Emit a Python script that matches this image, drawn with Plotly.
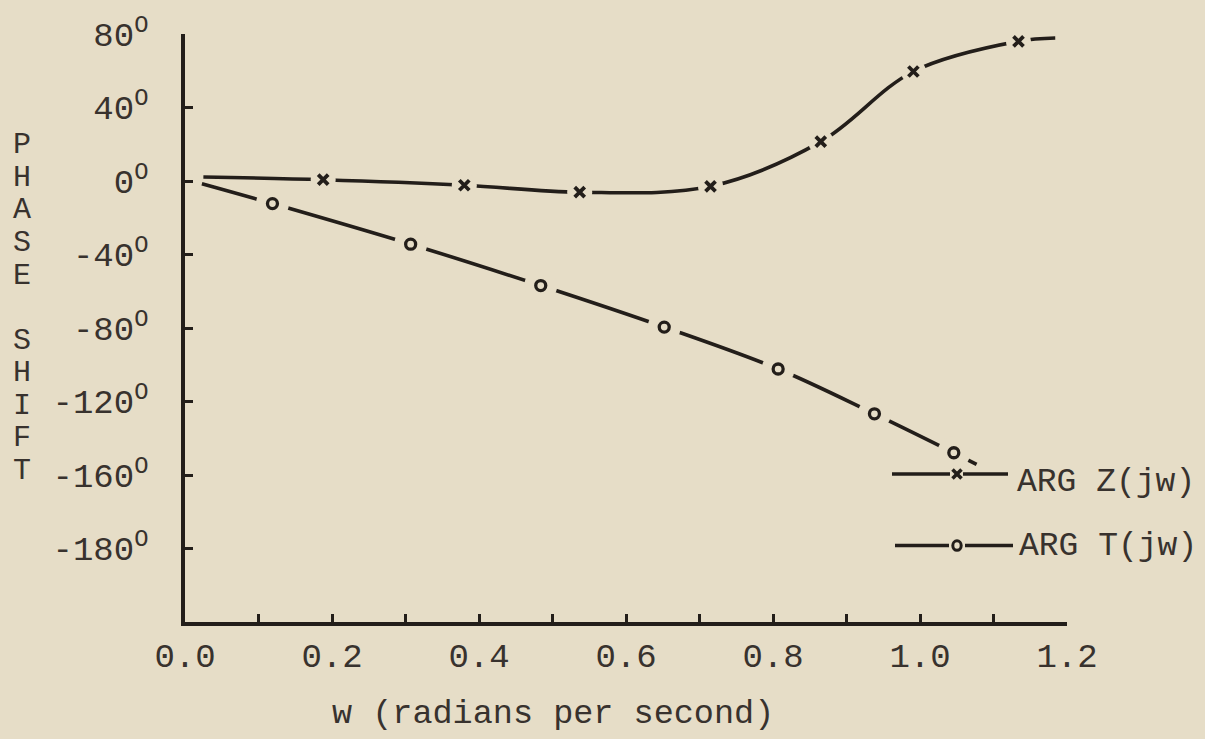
import plotly.graph_objects as go

# ---- data: phase shift (degrees) versus w (radians per second) ----
# ARG Z(jw): plotted points and the two free ends of the drawn curve
z_w_marks = [0.188, 0.380, 0.537, 0.715, 0.865, 0.991, 1.134]
z_deg_marks = [0.7, -2.3, -6.1, -2.9, 21.4, 59.6, 76.0]
z_w_ends = [0.025, 1.184]
z_deg_ends = [2.2, 77.8]

# ARG T(jw)
t_w_marks = [0.119, 0.307, 0.484, 0.652, 0.807, 0.938, 1.046]
t_deg_marks = [-12.3, -34.4, -56.9, -79.5, -102.3, -126.7, -147.9]
t_w_ends = [0.023, 1.077]
t_deg_ends = [-1.5, -154.2]

# axis ticks
x_tick_vals = [0.0, 0.1, 0.2, 0.3, 0.4, 0.5, 0.6, 0.7, 0.8, 0.9, 1.0, 1.1, 1.2]
x_tick_text = ["0.0", "", "0.2", "", "0.4", "", "0.6", "", "0.8", "", "1.0", "", "1.2"]
y_tick_vals = [80, 40, 0, -40, -80, -120, -160, -200]
y_tick_text = ["80", "40", "0", "-40", "-80", "-120", "-160", "-180"]

series_names = ["ARG Z(jw)", "ARG T(jw)"]
y_title = "PHASE SHIFT"
x_title = "w (radians per second)"

# ---- styling ----
PAPER = "#e6ddc7"
INK = "#231e1a"
TYPE = "#38322e"
FONT = "Liberation Mono"
W, H = 1205, 739
M_L, M_R, M_T, M_B = 185, 138, 30, 117
PLOT_W = W - M_L - M_R
PLOT_H = H - M_T - M_B
X_RANGE = [0, 1.2]
Y_RANGE = [-240, 80]
LINE_W = 3.6


def px_x(px):
    """page pixel column -> paper x"""
    return (px - M_L) / PLOT_W


def px_y(py):
    """page pixel row -> paper y"""
    return (H - M_B - py) / PLOT_H


def path(ends_w, marks_w, ends_v, marks_v):
    return ([ends_w[0]] + marks_w + [ends_w[1]],
            [ends_v[0]] + marks_v + [ends_v[1]])


fig = go.Figure()

# pen curves
for (ew, mw, ev, mv) in [(z_w_ends, z_w_marks, z_deg_ends, z_deg_marks),
                         (t_w_ends, t_w_marks, t_deg_ends, t_deg_marks)]:
    xs, ys = path(ew, mw, ev, mv)
    fig.add_trace(go.Scatter(x=xs, y=ys, mode="lines",
                             line=dict(color=INK, width=LINE_W, shape="spline", smoothing=1.0),
                             hoverinfo="skip", showlegend=False))

# paper-coloured discs break the pen line around each plotted point
for mw, mv, gap in [(z_w_marks, z_deg_marks, 25), (t_w_marks, t_deg_marks, 33)]:
    fig.add_trace(go.Scatter(x=mw, y=mv, mode="markers",
                             marker=dict(symbol="circle", size=gap, color=PAPER),
                             hoverinfo="skip", showlegend=False))

fig.add_trace(go.Scatter(x=z_w_marks, y=z_deg_marks, mode="markers", name=series_names[0],
                         marker=dict(symbol="x-thin", size=10,
                                     line=dict(color=INK, width=3.8)),
                         showlegend=False))
fig.add_trace(go.Scatter(x=t_w_marks, y=t_deg_marks, mode="markers", name=series_names[1],
                         marker=dict(symbol="circle-open", size=10, color=INK,
                                     line=dict(color=INK, width=3.3)),
                         showlegend=False))

# ---- hand-ruled key (page pixels) ----
key_rows = [
    dict(y=473, segs=[(892, 950), (963, 1008)], xm=957, kind="x", text_x=1015, tshift=-8),
    dict(y=545, segs=[(895, 949), (965, 1013)], xm=957, kind="o", text_x=1017, tshift=-1),
]
shapes = []
for row, name in zip(key_rows, series_names):
    for a, b in row["segs"]:
        shapes.append(dict(type="line", xref="paper", yref="paper",
                           x0=px_x(a), x1=px_x(b), y0=px_y(row["y"]), y1=px_y(row["y"]),
                           line=dict(color=INK, width=LINE_W)))
    cx, cy = row["xm"], row["y"]
    if row["kind"] == "x":
        for dy in (-4.5, 4.5):
            shapes.append(dict(type="line", xref="paper", yref="paper",
                               x0=px_x(cx - 4.5), x1=px_x(cx + 4.5),
                               y0=px_y(cy - dy), y1=px_y(cy + dy),
                               line=dict(color=INK, width=3.5)))
    else:
        shapes.append(dict(type="circle", xref="paper", yref="paper",
                           x0=px_x(cx - 4.2), x1=px_x(cx + 4.2),
                           y0=px_y(cy + 4.8), y1=px_y(cy - 4.8),
                           line=dict(color=INK, width=3)))
    fig.add_annotation(x=px_x(row["text_x"]), y=px_y(row["y"]), xref="paper", yref="paper",
                       text=name, showarrow=False, xanchor="left", yanchor="middle",
                       yshift=row["tshift"], font=dict(family=FONT, size=33, color=TYPE))

# ---- stacked vertical axis title ----
pitch = 32.8
for i, ch in enumerate(y_title):
    if ch == " ":
        continue
    fig.add_annotation(x=px_x(22), y=px_y(142 + pitch * i),
                       xref="paper", yref="paper", text=ch, showarrow=False,
                       xanchor="center", yanchor="middle",
                       font=dict(family=FONT, size=30, color=TYPE))

fig.add_annotation(x=px_x(553), y=px_y(715),
                   xref="paper", yref="paper", text=x_title, showarrow=False,
                   xanchor="center", yanchor="middle",
                   font=dict(family=FONT, size=33.5, color=TYPE))

fig.update_layout(
    width=W, height=H,
    margin=dict(l=M_L, r=M_R, t=M_T, b=M_B),
    paper_bgcolor=PAPER, plot_bgcolor=PAPER,
    showlegend=False,
    shapes=shapes,
    xaxis=dict(range=X_RANGE, showgrid=False, zeroline=False,
               showline=True, linecolor=INK, linewidth=3.5,
               ticks="inside", ticklen=8, tickwidth=3, tickcolor=INK,
               tickvals=x_tick_vals, ticktext=x_tick_text,
               ticklabelstandoff=0,
               tickfont=dict(family=FONT, size=34, color=TYPE)),
    yaxis=dict(range=Y_RANGE, showgrid=False, zeroline=False,
               showline=True, linecolor=INK, linewidth=3.5,
               ticks="inside", ticklen=8, tickwidth=3, tickcolor=INK,
               tickvals=y_tick_vals,
               ticktext=[t + "<sup>O</sup>" for t in y_tick_text],
               ticklabelstandoff=26,
               tickfont=dict(family=FONT, size=34, color=TYPE)),
)

fig.write_html("out.html")
